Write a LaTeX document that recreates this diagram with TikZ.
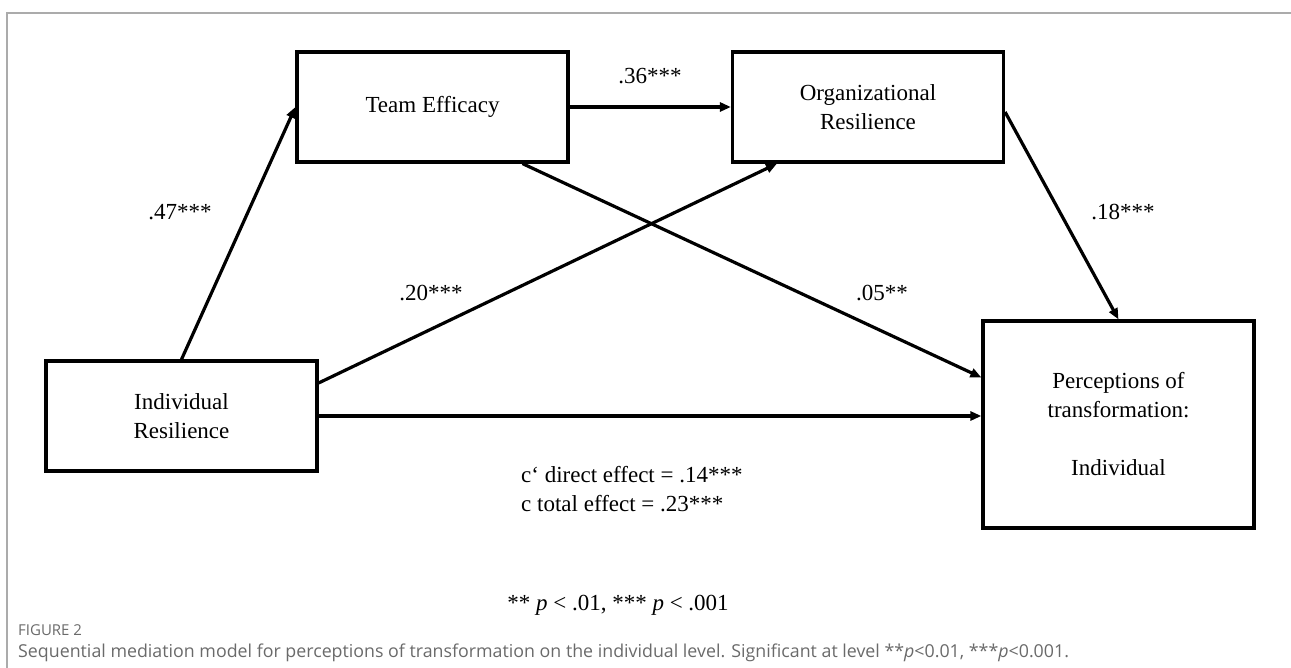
\documentclass[tikz,border=0pt]{standalone}
\usepackage{fontspec}
\setmainfont{Liberation Serif}
\newfontfamily\capfont{Open Sans}
\usetikzlibrary{arrows.meta}
\definecolor{framegray}{HTML}{ABABAB}
\definecolor{capgray}{HTML}{6A6A6A}
\begin{document}
\begin{tikzpicture}[x=1pt,y=-1pt,
  box/.style={draw=black, line width=3.2pt, minimum width=271pt, align=center,
    font=\fontsize{23}{29}\selectfont, inner sep=0pt},
  path/.style={line width=3.2pt, -{Triangle[length=11pt,width=9pt]}},
  coef/.style={font=\fontsize{23}{29}\selectfont, inner sep=0pt}]
  \useasboundingbox (0,0) rectangle (1291,668);
  % page frame
  \draw[framegray, line width=1.2pt] (7,668) -- (7,13) -- (1291,13);

  % variables
  \node[box, minimum height=110pt] (te) at (432.5,107) {Team Efficacy};
  \node[box, minimum height=110pt] (or) at (868,107) {Organizational\\Resilience};
  \node[box, minimum height=110pt] (ir) at (181.5,416) {Individual\\Resilience};
  \node[box, minimum height=207pt] (pt) at (1118.5,424.5) {Perceptions of\\transformation:\\[29pt]Individual};

  % paths
  \draw[path] (ir.north) -- (te.west);
  \draw[path] (te.east) -- (or.west);
  \draw[path] ([yshift=33pt]ir.east) -- ([xshift=-91pt]or.south);
  \draw[path] ([xshift=90pt]te.south) -- ([yshift=47pt]pt.west);
  \draw[path] ([yshift=-5pt]or.east) -- (pt.north);
  \draw[path] (ir.east) -- (ir.east -| pt.west);

  % coefficients
  \node[coef] (c47) at (180,212) {.47***};
  \node[coef] (c36) at (650,76) {.36***};
  \node[coef] (c20) at (431,293) {.20***};
  \node[coef] (c05) at (882,293) {.05**};
  \node[coef] (c18) at (1123,212) {.18***};
  \node[coef, anchor=west, align=left] (ce) at (521,489)
    {c‘ direct effect = .14***\\c total effect = .23***};

  % significance note
  \node[coef] (note) at (618,605) {** \textit{p} < .01, *** \textit{p} < .001};

  % caption
  \node[anchor=west, inner sep=0pt, text=capgray, font=\capfont\fontsize{15}{17}\selectfont] (fig) at (18,630) {FIGURE 2};
  \node[anchor=west, inner sep=0pt, text=capgray, font=\capfont\fontsize{17.8}{20}\selectfont] (cap) at (18,653)
    {Sequential mediation model for perceptions of transformation on the individual level. Significant at level **\textit{p}<0.01, ***\textit{p}<0.001.};
\end{tikzpicture}
\end{document}
